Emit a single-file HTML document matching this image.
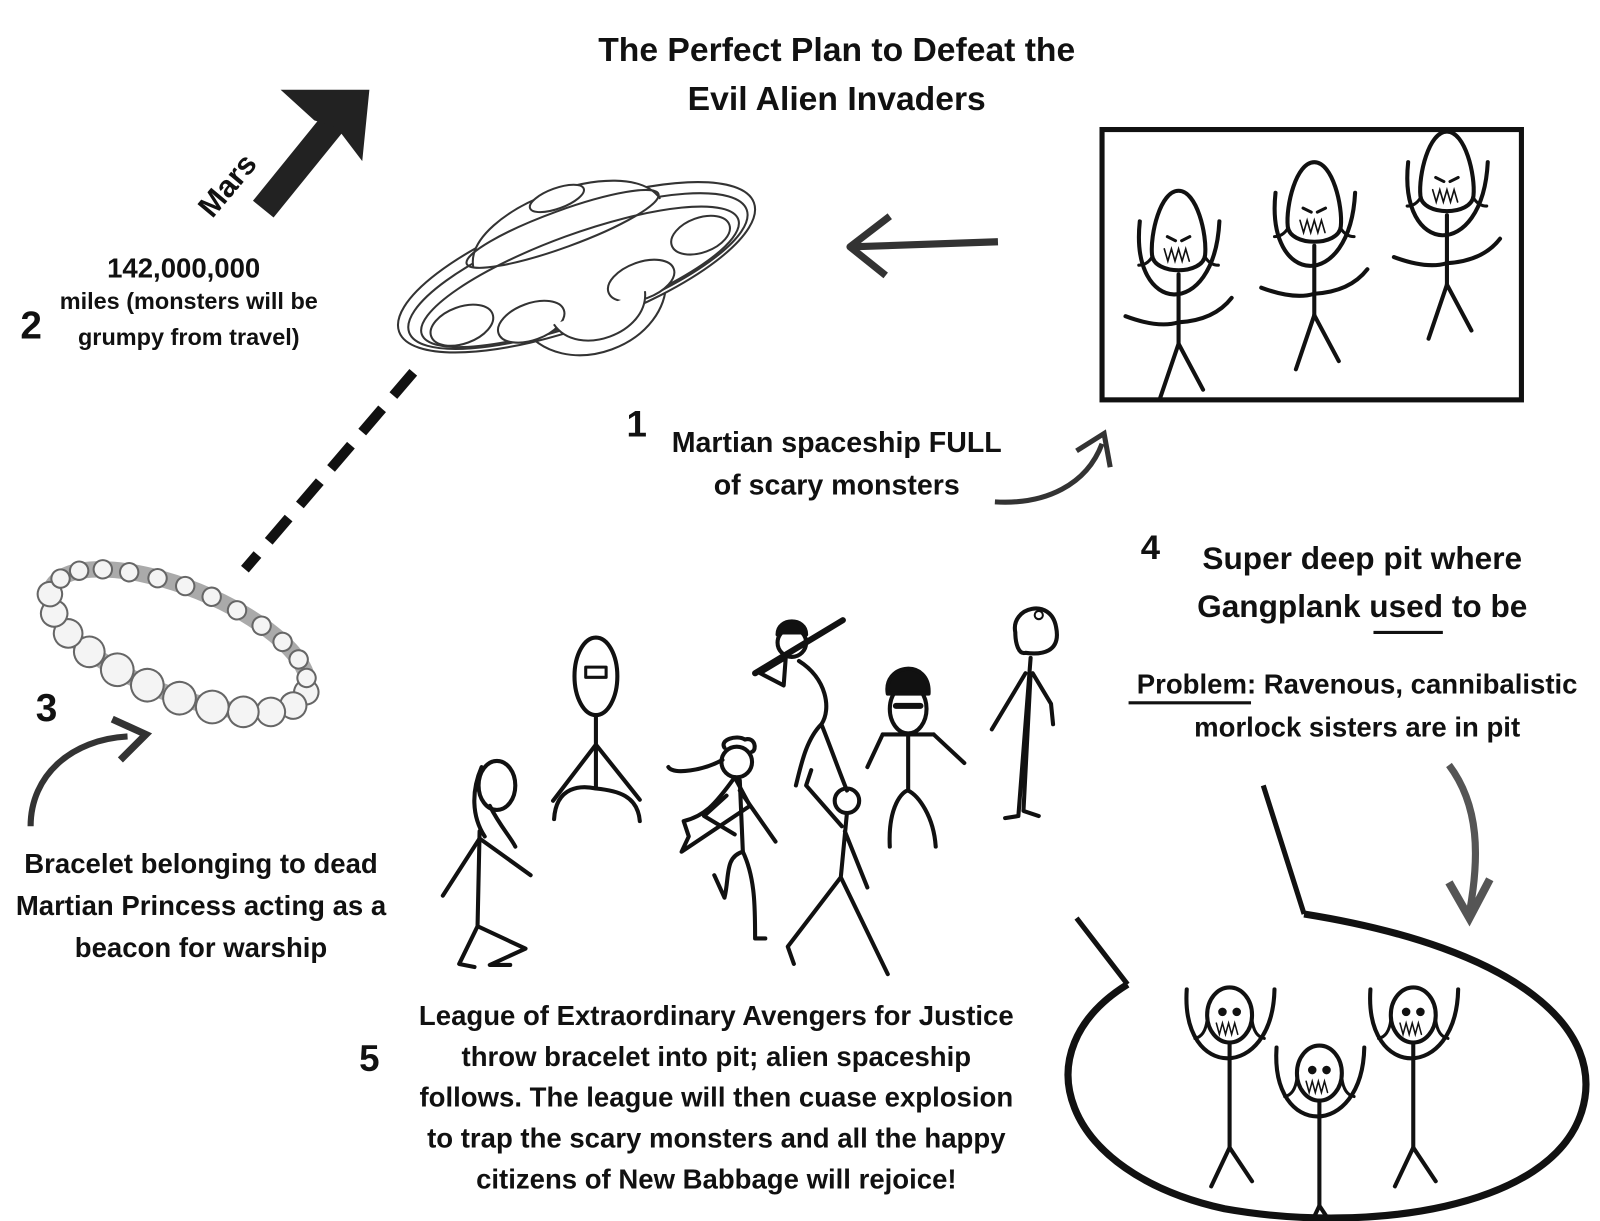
<!DOCTYPE html>
<html><head><meta charset="utf-8"><style>
html,body{margin:0;padding:0;background:#fff;}
svg{display:block}
text{font-family:"Liberation Sans",sans-serif;font-weight:bold;fill:#111;}
</style></head><body>
<svg width="1600" height="1221" viewBox="0 0 1568 1197" preserveAspectRatio="none" xmlns="http://www.w3.org/2000/svg">
<defs>
<g id="mon" fill="none" stroke="#111" stroke-width="4" stroke-linecap="round">
<path d="M0,-43 C18,-43 28,0 26,20 C24,40 -24,40 -26,20 C-28,0 -18,-43 0,-43Z"/>
<path d="M-11,2 l8,4 M11,2 l-8,4" stroke-width="3"/>
<path d="M-14,14 l3.5,12 l3.5,-12 l3.5,12 l3.5,-12 l3.5,12 l3.5,-12 l3.5,12" stroke-width="1.6"/>
<path d="M-26,22 q-5,8 -13,8 M26,22 q5,8 13,8" stroke-width="3"/>
<line x1="0" y1="39" x2="0" y2="107"/>
<path d="M0,107 L-18,160 M0,107 L24,152"/>
<path d="M-38,-13 C-48,80 35,85 40,-13"/>
<path d="M-52,80 Q-20,92 0,86 Q35,84 52,62"/>
</g>
<g id="sis" fill="none" stroke="#111" stroke-width="4" stroke-linecap="round">
<ellipse cx="0" cy="0" rx="22" ry="27"/>
<circle cx="-7" cy="-3" r="2.2" fill="#111"/><circle cx="7" cy="-3" r="2.2" fill="#111"/>
<path d="M-13,8 l3,11 l3,-11 l3,11 l3,-11 l3,11 l3,-11 l3,11" stroke-width="1.5"/>
<path d="M-22,5 q-2,16 -12,18 M22,5 q2,16 12,18" stroke-width="3"/>
<line x1="0" y1="27" x2="0" y2="130"/>
<path d="M0,130 L-18,168 M0,130 L22,163"/>
<path d="M-42,-25 C-48,65 42,65 44,-25"/>
</g>
</defs>

<text x="820" y="60" font-size="33" text-anchor="middle">The Perfect Plan to Defeat the</text>
<text x="820" y="108" font-size="33" text-anchor="middle">Evil Alien Invaders</text>

<path d="M258,205 L335,110" stroke="#222" stroke-width="26" fill="none"/>
<polygon points="275,88 362,88 355,158 330,125 308,118" fill="#222"/>
<text x="0" y="0" font-size="30" transform="translate(208,215) rotate(-50)">Mars</text>

<text x="180" y="272" font-size="27" text-anchor="middle" font-weight="normal">142,000,000</text>
<text x="185" y="303" font-size="23" text-anchor="middle">miles (monsters will be</text>
<text x="185" y="338" font-size="23" text-anchor="middle">grumpy from travel)</text>
<text x="20" y="332" font-size="38">2</text>

<!-- UFO -->
<g transform="translate(565,262) rotate(-20)" fill="#fff" stroke="#333" stroke-width="2">
<path d="M-70,35 C-55,105 65,105 80,35"/>
<ellipse cx="0" cy="0" rx="185" ry="58"/>
<ellipse cx="0" cy="4" rx="176" ry="50" fill="none"/>
<ellipse cx="0" cy="10" rx="165" ry="42" fill="none"/>
<path d="M-95,-35 C-85,-90 85,-92 100,-35" />
<ellipse cx="0" cy="-40" rx="100" ry="18" fill="none"/>
<ellipse cx="5" cy="-70" rx="28" ry="10"/>
<ellipse cx="-125" cy="15" rx="32" ry="18"/>
<ellipse cx="-60" cy="35" rx="34" ry="18"/>
<ellipse cx="55" cy="34" rx="34" ry="18"/>
<ellipse cx="125" cy="12" rx="30" ry="17"/>
<path d="M-40,45 C-30,85 45,85 55,45" fill="#fff"/>
</g>

<line x1="405" y1="365" x2="240" y2="558" stroke="#111" stroke-width="10" stroke-dasharray="30 17"/>

<g transform="translate(175,628) rotate(22)" fill="#f4f4f4" stroke="#666" stroke-width="2">
<ellipse cx="0" cy="0" rx="135" ry="52" fill="none" stroke="#aaa" stroke-width="16"/>
<circle cx="135" cy="0" r="12"/><circle cx="128" cy="17" r="13"/><circle cx="110" cy="31" r="14"/><circle cx="85" cy="41" r="15"/><circle cx="55" cy="48" r="16"/><circle cx="22" cy="52" r="16"/><circle cx="-12" cy="52" r="16"/><circle cx="-45" cy="49" r="16"/><circle cx="-77" cy="43" r="15"/><circle cx="-103" cy="34" r="14"/><circle cx="-123" cy="21" r="13"/><circle cx="-134" cy="5" r="12"/>
<circle cx="-130" cy="-13" r="9"/><circle cx="-116" cy="-27" r="9"/><circle cx="-95" cy="-37" r="9"/><circle cx="-70" cy="-44" r="9"/><circle cx="-42" cy="-49" r="9"/><circle cx="-14" cy="-52" r="9"/><circle cx="14" cy="-52" r="9"/><circle cx="42" cy="-49" r="9"/><circle cx="70" cy="-44" r="9"/><circle cx="95" cy="-37" r="9"/><circle cx="116" cy="-27" r="9"/><circle cx="130" cy="-13" r="9"/>
</g>
<text x="35" y="707" font-size="38">3</text>
<path d="M30,810 C30,760 70,725 125,722" stroke="#333" stroke-width="6" fill="none"/>
<path d="M110,705 L143,720 L118,745" stroke="#333" stroke-width="7" fill="none"/>
<text x="197" y="856" font-size="27" text-anchor="middle">Bracelet belonging to dead</text>
<text x="197" y="897" font-size="27" text-anchor="middle">Martian Princess acting as a</text>
<text x="197" y="938" font-size="27" text-anchor="middle">beacon for warship</text>

<path d="M978,237 L835,242" stroke="#333" stroke-width="7" fill="none"/>
<path d="M872,212 L833,242 L868,270" stroke="#333" stroke-width="7" fill="none" stroke-linejoin="round"/>

<rect x="1080" y="127" width="411" height="265" fill="none" stroke="#111" stroke-width="5"/>
<use href="#mon" transform="translate(1155,230)"/>
<use href="#mon" transform="translate(1288,202)"/>
<use href="#mon" transform="translate(1418,172)"/>

<text x="614" y="428" font-size="36">1</text>
<text x="820" y="443" font-size="28" text-anchor="middle">Martian spaceship FULL</text>
<text x="820" y="485" font-size="28" text-anchor="middle">of scary monsters</text>
<path d="M975,492 C1025,495 1065,475 1080,435" stroke="#333" stroke-width="5" fill="none"/>
<path d="M1055,442 L1082,425 L1088,458" stroke="#333" stroke-width="5" fill="none"/>

<text x="1118" y="548" font-size="34">4</text>
<text x="1335" y="558" font-size="31" text-anchor="middle">Super deep pit where</text>
<text x="1335" y="605" font-size="31" text-anchor="middle">Gangplank used to be</text>
<line x1="1346" y1="620" x2="1414" y2="620" stroke="#111" stroke-width="3"/>
<text x="1330" y="680" font-size="27" text-anchor="middle">Problem: Ravenous, cannibalistic</text>
<line x1="1106" y1="689" x2="1226" y2="689" stroke="#111" stroke-width="3"/>
<text x="1330" y="722" font-size="27" text-anchor="middle">morlock sisters are in pit</text>
<path d="M1420,750 C1450,790 1450,840 1440,895" stroke="#555" stroke-width="7" fill="none"/>
<path d="M1420,865 L1440,900 L1460,862" stroke="#555" stroke-width="8" fill="none"/>

<path d="M1278,896 L1238,770 M1055,900 L1105,965" stroke="#111" stroke-width="5" fill="none"/>
<path d="M1105,965 C1000,1030 1040,1150 1200,1185 C1340,1210 1520,1185 1550,1090 C1575,1010 1490,930 1278,896" stroke="#111" stroke-width="7" fill="none"/>
<use href="#sis" transform="translate(1205,995)"/>
<use href="#sis" transform="translate(1293,1052)"/>
<use href="#sis" transform="translate(1385,995)"/>

<g fill="none" stroke="#111" stroke-width="4" stroke-linecap="round" stroke-linejoin="round">
<ellipse cx="487" cy="770" rx="18" ry="24"/>
<path d="M472,752 C462,775 462,800 475,820 M480,790 C490,810 500,820 505,830"/>
<line x1="470" y1="815" x2="468" y2="908"/>
<path d="M470,822 L434,878 M470,822 L520,858"/>
<path d="M468,908 L450,945 L465,948 M468,908 L515,930 L480,946 L500,946"/>
<ellipse cx="584" cy="663" rx="21" ry="38"/>
<rect x="574" y="654" width="20" height="10" stroke-width="3"/>
<line x1="584" y1="701" x2="584" y2="773"/>
<path d="M584,730 L542,785 M584,730 L627,784"/>
<path d="M543,803 C545,770 570,770 584,773 C605,775 625,780 627,805"/>
<circle cx="722" cy="747" r="15"/>
<path d="M710,733 C705,725 722,720 730,725 C740,722 742,735 737,737" />
<path d="M708,745 C690,755 660,760 655,752"/>
<path d="M720,762 C700,790 690,800 670,805 L675,820 L668,835 L735,790 Z" fill="#fff"/>
<path d="M725,765 L728,835 M725,775 L760,825 M712,780 L690,800 L720,818"/>
<path d="M728,835 C710,840 715,860 710,880 L700,858 M728,835 C740,860 740,890 740,920 L750,920"/>
<circle cx="776" cy="630" r="14"/>
<path d="M762,622 C762,605 790,605 790,622" fill="#111"/>
<path d="M740,660 L826,608" stroke-width="6"/>
<path d="M770,645 L745,660 L768,672 Z"/>
<path d="M783,648 C810,665 815,695 805,710 C790,725 785,750 780,770 M805,710 C815,735 820,750 830,775"/>
<circle cx="830" cy="785" r="12"/>
<path d="M825,810 L790,770 L795,755"/>
<path d="M830,797 L824,860 L772,928 L778,945 M824,860 L870,955 M828,815 L850,870"/>
<ellipse cx="890" cy="695" rx="18" ry="24"/>
<path d="M870,680 C865,650 912,645 910,680 Z" fill="#111"/>
<path d="M878,692 h24" stroke-width="6"/>
<line x1="890" y1="720" x2="890" y2="775"/>
<path d="M865,720 L915,720 M865,720 L850,752 M915,720 L945,748"/>
<path d="M872,830 C870,790 885,775 890,775 C900,780 915,800 917,830"/>
<path d="M995,620 C990,595 1030,585 1035,615 C1040,640 1020,642 1005,640 C998,642 995,630 995,620Z"/>
<circle cx="1018" cy="603" r="4" stroke-width="2"/>
<path d="M1010,645 L998,800 L985,802 M1010,660 L1003,795 L1018,800 M1005,660 L972,715 M1012,660 L1030,690 L1032,710"/>
</g>

<text x="352" y="1050" font-size="36">5</text>
<g font-size="27" text-anchor="middle">
<text x="702" y="1005">League of Extraordinary Avengers for Justice</text>
<text x="702" y="1045">throw bracelet into pit; alien spaceship</text>
<text x="702" y="1085">follows. The league will then cuase explosion</text>
<text x="702" y="1125">to trap the scary monsters and all the happy</text>
<text x="702" y="1165">citizens of New Babbage will rejoice!</text>
</g>
</svg>
</body></html>
